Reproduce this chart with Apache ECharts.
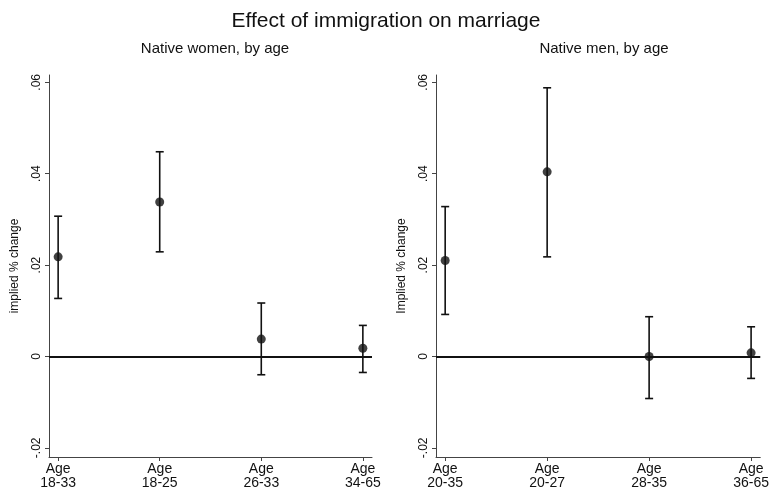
<!DOCTYPE html>
<html>
<head>
<meta charset="utf-8">
<script src="https://cdn.jsdelivr.net/npm/echarts@6/dist/echarts.min.js"></script>
<style>
  html, body { margin: 0; padding: 0; background: #fff; }
  #chart { width: 772px; height: 497px; }
</style>
</head>
<body>
<div id="chart"></div>
<script>
// Point estimates and 95% intervals, by age group
const womenCategories = ['Age\n18-33', 'Age\n18-25', 'Age\n26-33', 'Age\n34-65'];
const womenEstimate = [0.0218, 0.0338, 0.0038, 0.0018];
const womenLower = [0.0127, 0.0229, -0.0040, -0.0035];
const womenUpper = [0.0307, 0.0448, 0.0117, 0.0068];

const menCategories = ['Age\n20-35', 'Age\n20-27', 'Age\n28-35', 'Age\n36-65'];
const menEstimate = [0.0210, 0.0404, 0.0000, 0.0008];
const menLower = [0.0092, 0.0218, -0.0092, -0.0048];
const menUpper = [0.0328, 0.0588, 0.0087, 0.0065];

const yTicks = [-0.02, 0, 0.02, 0.04, 0.06];
const xPositions = [1, 2, 3, 4];

const FONT = 'Liberation Sans, Arial, sans-serif';

function yLabel(v) {
  if (Math.abs(v) < 1e-9) return '0';
  const s = v.toFixed(2);
  return s.replace('0.', '.');
}

function xAxisFor(idx, cats) {
  return {
    type: 'value', gridIndex: idx, min: 0.91, max: 4.09,
    axisLine: { onZero: false, lineStyle: { color: '#444', width: 1 } },
    axisTick: { show: true, length: 4, customValues: xPositions, lineStyle: { color: '#444' } },
    axisLabel: {
      customValues: xPositions, color: '#111', fontFamily: FONT, fontSize: 14,
      lineHeight: 14, margin: 5,
      formatter: v => cats[Math.round(v) - 1] || ''
    },
    splitLine: { show: false }
  };
}

function yAxisFor(idx, name) {
  return {
    type: 'value', gridIndex: idx, min: -0.022, max: 0.0616,
    name: name, nameLocation: 'middle', nameGap: 28,
    nameTextStyle: { color: '#111', fontFamily: FONT, fontSize: 12 },
    axisLine: { show: true, lineStyle: { color: '#444', width: 1 } },
    axisTick: { show: true, length: 4, customValues: yTicks, lineStyle: { color: '#444' } },
    axisLabel: {
      customValues: yTicks, rotate: 90, color: '#111', fontFamily: FONT, fontSize: 12,
      margin: 6, formatter: yLabel
    },
    splitLine: { show: false }
  };
}

function errorBars(idx, lower, upper) {
  return {
    type: 'custom', xAxisIndex: idx, yAxisIndex: idx,
    data: xPositions.map((x, i) => [x, lower[i], upper[i]]),
    renderItem: (params, api) => {
      const lo = api.coord([api.value(0), api.value(1)]);
      const hi = api.coord([api.value(0), api.value(2)]);
      const w = 4;
      const style = { stroke: '#111', lineWidth: 1.6 };
      return {
        type: 'group',
        children: [
          { type: 'line', shape: { x1: lo[0], y1: lo[1], x2: hi[0], y2: hi[1] }, style },
          { type: 'line', shape: { x1: lo[0] - w, y1: lo[1], x2: lo[0] + w, y2: lo[1] }, style },
          { type: 'line', shape: { x1: hi[0] - w, y1: hi[1], x2: hi[0] + w, y2: hi[1] }, style }
        ]
      };
    },
    z: 3
  };
}

function points(idx, est) {
  return {
    type: 'scatter', xAxisIndex: idx, yAxisIndex: idx,
    data: xPositions.map((x, i) => [x, est[i]]),
    symbol: 'circle', symbolSize: 9,
    itemStyle: { color: '#111' },
    markLine: {
      silent: true, symbol: 'none', label: { show: false },
      lineStyle: { color: '#111', width: 2, type: 'solid' },
      data: [{ yAxis: 0 }]
    },
    z: 4
  };
}

const chart = echarts.init(document.getElementById('chart'), null, { renderer: 'canvas' });
chart.setOption({
  backgroundColor: '#fff',
  animation: false,
  title: [
    { text: 'Effect of immigration on marriage', left: 'center', top: 6,
      textStyle: { fontFamily: FONT, fontSize: 21, fontWeight: 'normal', color: '#111' } },
    { text: 'Native women, by age', left: 210, top: 36, textAlign: 'center',
      textStyle: { fontFamily: FONT, fontSize: 15, fontWeight: 'normal', color: '#111' } },
    { text: 'Native men, by age', left: 599, top: 36, textAlign: 'center',
      textStyle: { fontFamily: FONT, fontSize: 15, fontWeight: 'normal', color: '#111' } }
  ],
  grid: [
    { left: 49, right: 400, top: 75, bottom: 40 },
    { left: 436, right: 10, top: 75, bottom: 40 }
  ],
  xAxis: [xAxisFor(0, womenCategories), xAxisFor(1, menCategories)],
  yAxis: [yAxisFor(0, 'implied % change'), yAxisFor(1, 'Implied % change')],
  series: [
    errorBars(0, womenLower, womenUpper),
    points(0, womenEstimate),
    errorBars(1, menLower, menUpper),
    points(1, menEstimate)
  ]
});
</script>
</body>
</html>
